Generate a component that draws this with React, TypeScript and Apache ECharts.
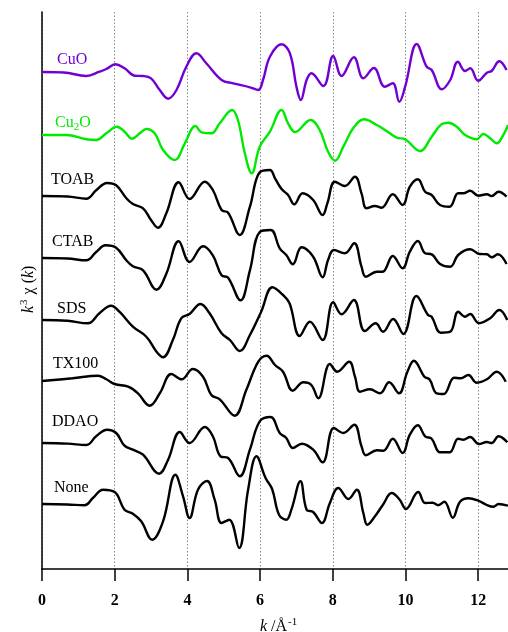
import React, { useEffect, useRef } from "react";
import * as echarts from "echarts";

// k (Å^-1) and k^3 chi(k) (arbitrary units, positive = up) for each sample
const cuO: [number, number][] = [
  [0, 0], [0.6, -0.5], [1.22, -4], [1.58, 0.3], [1.77, 3], [2.02, 7.7], [2.27, 3.7], [2.55, -3.7], [2.78, -4], [3.0, -6.3],
  [3.24, -18], [3.47, -26.7], [3.7, -18], [3.97, 5.3], [4.25, 18.7], [4.52, 8.7], [4.94, -8], [5.26, -11.3], [5.72, -15.3],
  [5.95, -18], [6.08, -8], [6.27, 15.3], [6.59, 27.7], [6.82, 18.7], [7.0, -14.7], [7.12, -28], [7.28, -8], [7.41, -1.3],
  [7.74, -14], [8.01, 16], [8.24, -4], [8.58, 14.7], [8.84, -6.3], [9.13, 4], [9.43, -14.7], [9.65, -11.3], [9.83, -29.7],
  [9.99, -14.7], [10.31, 28], [10.58, 5.3], [10.72, 2], [11.0, -17.3], [11.23, -8], [11.44, 10.3], [11.64, 1], [11.78, 3.7],
  [12.0, -8.7], [12.24, -0.7], [12.37, 1], [12.58, 10.7], [12.78, 2],
];
const cu2O: [number, number][] = [
  [0, 0], [0.67, 0], [1.22, -4.3], [1.49, -5], [1.77, 1.7], [2.06, 8.3], [2.27, 3.3], [2.48, -3.7], [2.69, 1.7], [2.87, 6],
  [3.1, 1.7], [3.33, -15], [3.65, -25], [3.93, -8.3], [4.22, 9], [4.39, 2.7], [4.66, 1.7], [4.89, 11.7], [5.23, 25], [5.39, 15],
  [5.58, -18.3], [5.77, -38.3], [5.99, -11.7], [6.27, 3.3], [6.59, 25], [6.77, 11.7], [6.96, 3], [7.39, 15], [7.64, 5],
  [7.87, -16.7], [8.06, -25.7], [8.29, -11.7], [8.56, 6.7], [8.86, 15.7], [9.21, 10], [9.48, 4], [9.76, -2.7], [9.99, -4.3],
  [10.4, -16], [10.72, -1.7], [11.0, 11], [11.18, 12.3], [11.41, 8.3], [11.64, 0], [11.96, -4.3], [12.14, 1], [12.33, -3.3],
  [12.51, -8.3], [12.69, 0], [12.82, 10],
];
const toab: [number, number][] = [
  [0, 0], [0.7, -0.5], [1.22, -2.7], [1.49, 5.7], [1.79, 13], [2.04, 10.7], [2.32, -2.3], [2.5, -8], [2.78, -12.3], [3.0, -24],
  [3.19, -31.7], [3.42, -17.3], [3.76, 13.7], [4.06, -3], [4.48, 14.3], [4.7, 6], [4.94, -14], [5.12, -16.7], [5.44, -39],
  [5.72, -10.7], [5.99, 23.7], [6.27, 26], [6.41, 17.7], [6.59, 7], [6.77, 1], [6.94, -8.3], [7.17, 2.7], [7.46, -4],
  [7.72, -19], [7.85, -7.3], [8.06, 14.3], [8.33, 10], [8.61, 19.3], [8.79, 2.7], [8.93, -12.3], [9.16, -10], [9.34, -11.7],
  [9.65, 1.7], [9.92, -9], [10.12, 9.3], [10.34, 16.7], [10.54, 4.3], [10.72, 1], [10.95, -9], [11.21, -10.7], [11.45, 2.7],
  [11.59, 2.7], [11.78, 5.3], [12.0, 0.3], [12.24, 1.7], [12.37, 0], [12.56, 4.3], [12.78, -0.7],
];
const ctab: [number, number][] = [
  [0, 0], [0.7, -0.5], [1.22, -2.3], [1.49, 6], [1.75, 12.7], [2.04, 10.3], [2.32, -2.3], [2.5, -8.3], [2.78, -12.3],
  [3.15, -31.7], [3.42, -15.7], [3.76, 16.7], [4.06, -4], [4.43, 11.7], [4.7, 2.7], [4.94, -17.3], [5.12, -19.7],
  [5.46, -42.3], [5.72, -12.3], [5.99, 26], [6.29, 28], [6.54, 9.7], [6.72, 3], [6.9, -6.3], [7.14, 10.7], [7.46, 1.3],
  [7.72, -19.3], [7.87, -2], [8.03, 8], [8.33, 4.7], [8.59, 14.7], [8.79, -8.7], [8.91, -18.7], [9.21, -13.7], [9.37, -13.7],
  [9.65, 2], [9.92, -10.3], [10.12, 6.3], [10.34, 17], [10.54, 4.7], [10.72, 3.7], [10.95, -6], [11.23, -8.7], [11.45, 3],
  [11.78, 8.7], [12.04, 4], [12.24, 3.7], [12.37, 0.7], [12.54, 3.7], [12.78, -6],
];
const sds: [number, number][] = [
  [0, 0], [0.7, -0.8], [1.26, -3.3], [1.58, 6.7], [1.9, 14.3], [2.13, 8.3], [2.5, -6.7], [2.87, -16.7], [3.15, -31.7],
  [3.33, -37.3], [3.6, -20], [3.83, 1.7], [4.06, 6], [4.36, 16], [4.61, 6.7], [4.94, -13.3], [5.17, -20], [5.44, -31],
  [5.72, -15], [6.03, 8.3], [6.34, 32.7], [6.63, 25], [6.81, 16.7], [7.09, -16], [7.37, -1.7], [7.72, -20], [8.01, 17.7],
  [8.24, 5.7], [8.58, 20], [8.88, -11], [9.18, -3.3], [9.38, -11.7], [9.66, 1], [9.94, -14], [10.3, 24], [10.62, 5],
  [10.72, 3.3], [10.97, -12.7], [11.23, -11.7], [11.45, 8.3], [11.64, 3.3], [11.78, 6], [12.02, -3.3], [12.33, 1.7],
  [12.58, 10], [12.8, 0],
];
const tx100: [number, number][] = [
  [0, 0], [0.84, 2.7], [1.54, 5.3], [1.77, 1.7], [2.0, -3], [2.37, -5.7], [2.64, -12.3], [2.96, -24.7], [3.24, -12.3],
  [3.56, 7], [3.84, 1.7], [4.15, 12], [4.43, 4.3], [4.66, -14], [4.89, -18.3], [5.3, -34.7], [5.62, -9], [5.95, 19.3],
  [6.18, 25.3], [6.41, 16], [6.63, 9.3], [6.9, -9.7], [7.19, -1.3], [7.41, -4], [7.6, -17.3], [7.92, 17], [8.12, 9.3],
  [8.45, 19.3], [8.61, 4.3], [8.75, -10.7], [9.02, -8.3], [9.3, -12.3], [9.55, -1.3], [9.82, -12.3], [10.05, 9],
  [10.23, 20.3], [10.52, 4.3], [10.66, 1.7], [10.86, -12.3], [11.05, -13], [11.34, 3.3], [11.52, 2.7], [11.73, 6],
  [11.96, -1.7], [12.24, 1.7], [12.51, 9.3], [12.76, -0.7],
];
const ddao: [number, number][] = [
  [0, 0], [0.7, -0.6], [1.22, -2], [1.49, 6.7], [1.79, 13.3], [2.04, 10], [2.27, -2.7], [2.5, -6.7], [2.78, -11.7],
  [3.22, -30.7], [3.47, -16.7], [3.79, 11], [4.06, 0], [4.48, 16], [4.7, 6.7], [4.91, -13.3], [5.12, -15], [5.44, -33.3],
  [5.72, -6.7], [5.99, 21.7], [6.29, 26], [6.54, 10], [6.72, 5], [6.9, -5], [7.15, -0.7], [7.46, -6.7], [7.72, -19.3],
  [8.03, 15], [8.29, 10], [8.59, 18.3], [8.79, -3.3], [8.91, -12.3], [9.21, -7.3], [9.39, -7.7], [9.65, 4.3], [9.92, -10],
  [10.12, 8.3], [10.34, 17.7], [10.54, 6.7], [10.72, 4.3], [10.95, -9.3], [11.21, -9.3], [11.45, 4.3], [11.59, 3.3],
  [11.78, 6], [12.02, -1], [12.24, 1], [12.37, 0], [12.56, 6.7], [12.8, 0.7],
];
const none: [number, number][] = [
  [0, 0], [0.7, -0.5], [1.17, -1.3], [1.4, 6], [1.68, 14.3], [2.0, 12], [2.27, -5.7], [2.5, -9.7], [2.73, -17.3],
  [3.03, -35.7], [3.33, -17.3], [3.67, 29.3], [3.88, 7.7], [4.06, -14], [4.29, 14.3], [4.54, 23], [4.75, 4.3], [4.94, -19],
  [5.15, -15.7], [5.42, -44], [5.67, 14.3], [5.9, 47.7], [6.15, 26], [6.33, 15], [6.52, -10.7], [6.72, -15.7], [6.86, -5.7],
  [7.11, 22.7], [7.28, -5.7], [7.46, -8], [7.7, -19], [7.92, 1], [8.15, 16], [8.43, 5], [8.66, 14.3], [8.84, -9],
  [8.95, -20.7], [9.16, -12.3], [9.38, -0.7], [9.62, 11], [9.84, 4.3], [10.01, -5], [10.35, 12], [10.54, 1], [10.75, 1.3],
  [10.9, -1.2], [11.07, 2.3], [11.3, -13.7], [11.5, 2.3], [11.73, 5.7], [12.0, 3.3], [12.24, -1], [12.42, -2.7], [12.56, 0],
  [12.82, -1.7],
];

const seriesNames = ["CuO", "Cu2O", "TOAB", "CTAB", "SDS", "TX100", "DDAO", "None"];
const seriesData = [cuO, cu2O, toab, ctab, sds, tx100, ddao, none];
// vertical offsets used to stack the spectra
const offsets = [497, 434, 373, 311, 249, 188, 126, 65];
const colors = ["#7000d2", "#00ea00", "#000", "#000", "#000", "#000", "#000", "#000"];

const SERIF = "'Liberation Serif', 'Times New Roman', serif";

export default function App() {
  const ref = useRef<HTMLDivElement>(null);
  useEffect(() => {
    if (!ref.current) return;
    const chart = echarts.init(ref.current, undefined, { renderer: "svg" });

    const labelPos: [number, number][] = [
      [57, 58], [55, 121], [51, 178], [52, 240], [57, 307], [53, 362], [52, 420], [54, 486],
    ];
    const richBase = (fill: string) => ({
      n: { fontFamily: SERIF, fontSize: 16, lineHeight: 20, color: fill },
      i: { fontFamily: SERIF, fontSize: 16, fontStyle: "italic", lineHeight: 20, color: fill },
      sup: { fontFamily: SERIF, fontSize: 11, lineHeight: 20, verticalAlign: "top", color: fill, padding: [0, 1, 0, 1] },
      sub: { fontFamily: SERIF, fontSize: 11, lineHeight: 20, verticalAlign: "bottom", color: fill },
    });
    const richText = (text: string, x: number, y: number, fill: string, extra: any = {}) => ({
      type: "text",
      x,
      y,
      ...extra,
      style: {
        text,
        fill,
        font: `16px ${SERIF}`,
        textVerticalAlign: "middle",
        verticalAlign: "middle",
        textAlign: "left",
        align: "left",
        rich: richBase(fill),
      },
    });

    const graphics: any[] = [];
    seriesNames.forEach((n, i) => {
      const [x, y] = labelPos[i];
      const t = n === "Cu2O" ? "{n|Cu}{sub|2}{n|O}" : `{n|${n}}`;
      graphics.push(richText(t, x, y, colors[i]));
    });
    // y-axis name (rotated)
    graphics.push(
      richText("{i|k}{sup|3}{n| χ (}{i|k}{n|)}", 27, 313, "#000", { rotation: Math.PI / 2 })
    );
    // x-axis name
    graphics.push(richText("{i|k}{n| /Å}{sup|-1}", 260, 625, "#000"));

    chart.setOption({
      animation: false,
      grid: { left: 42, right: 0, top: 12, bottom: 63 },
      xAxis: {
        type: "value",
        min: 0,
        max: 12.82,
        interval: 2,
        axisLine: { show: true, lineStyle: { color: "#000", width: 1.5 } },
        axisTick: { show: true, inside: false, length: 12, lineStyle: { color: "#000", width: 1.5 } },
        axisLabel: {
          color: "#000",
          fontFamily: SERIF,
          fontWeight: "bold",
          fontSize: 16,
          margin: 22,
          showMaxLabel: false,
        },
        splitLine: { show: true, lineStyle: { color: "#888", type: [1.5, 2], width: 1 } },
      },
      yAxis: {
        type: "value",
        min: 0,
        max: 557,
        axisLine: { show: true, onZero: false, lineStyle: { color: "#000", width: 1.5 } },
        axisTick: { show: false },
        axisLabel: { show: false },
        splitLine: { show: false },
      },
      series: seriesData.map((d, i) => ({
        name: seriesNames[i],
        type: "line",
        showSymbol: false,
        smooth: 0.4,
        data: d.map(([k, v]) => [k, v + offsets[i]]),
        lineStyle: { color: colors[i], width: 2.4 },
        itemStyle: { color: colors[i] },
        z: 3,
      })),
      graphic: graphics,
    });
    return () => chart.dispose();
  }, []);
  return (
    <div
      ref={ref}
      style={{ position: "fixed", left: 0, top: 0, width: 508, height: 632 }}
    />
  );
}
